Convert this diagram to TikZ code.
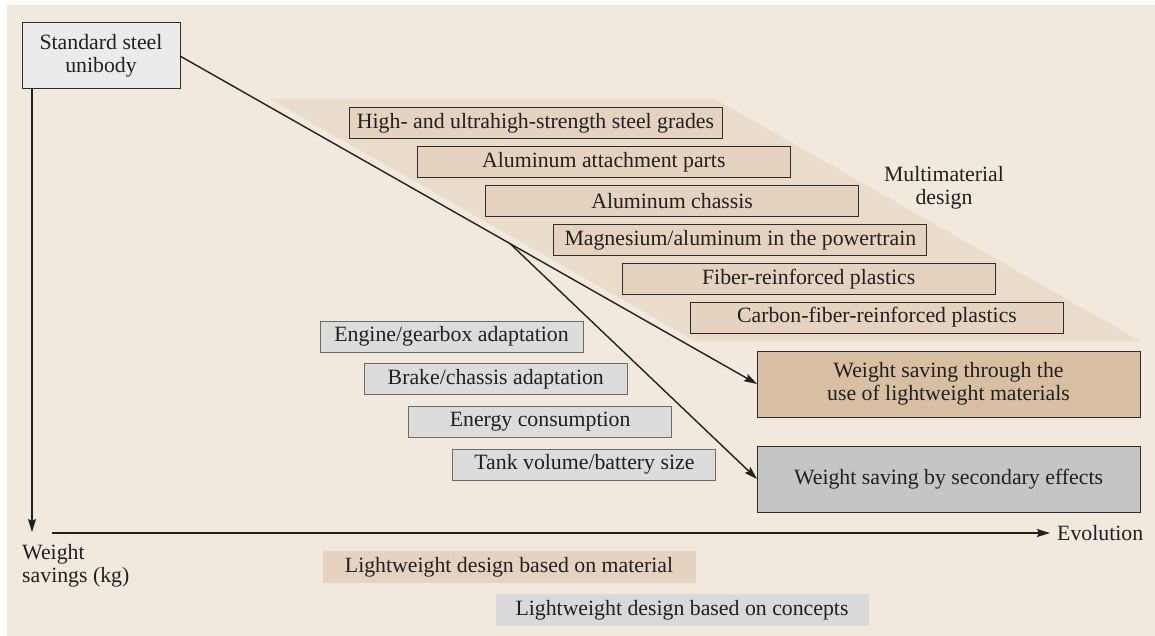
\documentclass[tikz,border=0pt]{standalone}
\usepackage{fontspec}
\setmainfont{Liberation Serif}
\usetikzlibrary{arrows.meta,calc}

\definecolor{bgcol}{HTML}{F2E9DE}
\definecolor{bandcol}{HTML}{EADCCB}
\definecolor{matfill}{HTML}{E5D3BF}
\definecolor{matmain}{HTML}{D9BFA1}
\definecolor{confill}{HTML}{DCDCDC}
\definecolor{secfill}{HTML}{C4C5C4}
\definecolor{legcon}{HTML}{D9D9D9}
\definecolor{unifill}{HTML}{EBEBEB}
\definecolor{ink}{HTML}{231F20}
\definecolor{edgedark}{HTML}{2E2B2A}
\definecolor{edgegray}{HTML}{6A6A6A}

\tikzset{
  txt/.style={font=\fontsize{21.8}{23.5}\selectfont, text=ink},
  boxbase/.style={txt, draw, line width=1pt, outer sep=0pt, inner sep=0pt, align=center},
  matbox/.style={boxbase, draw=edgedark, fill=matfill, minimum width=373pt, minimum height=31pt},
  conbox/.style={boxbase, draw=edgegray, fill=confill, minimum width=263pt, minimum height=31pt},
  bigbox/.style={boxbase, draw=edgedark, minimum width=383pt, minimum height=66pt},
  legbox/.style={txt, inner sep=0pt, outer sep=0pt, minimum width=373pt, minimum height=32pt},
  arr/.style={draw=ink, line width=1.4pt, -{Stealth[length=13pt,width=8pt,inset=2pt]}},
  ln/.style={draw=ink, line width=1.4pt},
}

\begin{document}
\begin{tikzpicture}[x=1pt, y=-1pt]
  \useasboundingbox (0,0) rectangle (1155,636);
  % page background
  \fill[bgcol] (7,5) rectangle (1155,636);

  % band behind the multimaterial options
  \fill[bandcol] (270,99) -- (715,99) -- (1140,341) -- (695,341) -- cycle;

  % starting point
  \node[boxbase, draw=edgedark, fill=unifill, minimum width=158pt, minimum height=66pt]
    (unibody) at (101,56) {Standard steel\\unibody};

  % material-based options
  \node[matbox] (m1) at (535.5,123.5) {High- and ultrahigh-strength steel grades};
  \node[matbox] (m2) at (603.8,162.3) {Aluminum attachment parts};
  \node[matbox] (m3) at (672.1,201.1) {Aluminum chassis};
  \node[matbox] (m4) at (740.4,239.9) {Magnesium/aluminum in the powertrain};
  \node[matbox] (m5) at (808.7,278.7) {Fiber-reinforced plastics};
  \node[matbox] (m6) at (877.0,317.5) {Carbon-fiber-reinforced plastics};

  \node[txt, align=center, inner sep=0pt] (multi) at (944,188) {Multimaterial\\design};

  % concept-based options
  \node[conbox] (c1) at (451.5,336.5) {Engine/gearbox adaptation};
  \node[conbox] (c2) at (495.8,379.2) {Brake/chassis adaptation};
  \node[conbox] (c3) at (540.1,421.9) {Energy consumption};
  \node[conbox] (c4) at (584.4,464.6) {Tank volume/battery size};

  % outcomes
  \node[bigbox, fill=matmain] (matbig) at (948.5,384) {Weight saving through the\\use of lightweight materials};
  \node[bigbox, fill=secfill] (secbig) at (948.5,479) {Weight saving by secondary effects};

  % axes
  \coordinate (ytip) at (32,532);
  \coordinate (xstart) at (52,533);
  \node[txt, anchor=west, inner xsep=7pt, inner ysep=0pt] (evo) at (1050,533) {Evolution};
  \node[txt, anchor=north west, align=left, inner sep=0pt] (wsave) at (22,544)
    {Weight\\savings (kg)};
  \draw[arr] ([xshift=10pt]unibody.south west) -- (ytip);
  \draw[arr] (xstart) -- (evo.west);

  % development paths
  \draw[arr] (unibody.east) -- (matbig.west);
  \coordinate (branch) at ($(unibody.east)!0.572!(matbig.west)$);
  \draw[arr] (branch) -- (secbig.west);

  % legend
  \node[legbox, fill=matfill] (legmat) at (509,567) {Lightweight design based on material};
  \node[legbox, fill=legcon] (legcon) at (682,610) {Lightweight design based on concepts};
\end{tikzpicture}
\end{document}
